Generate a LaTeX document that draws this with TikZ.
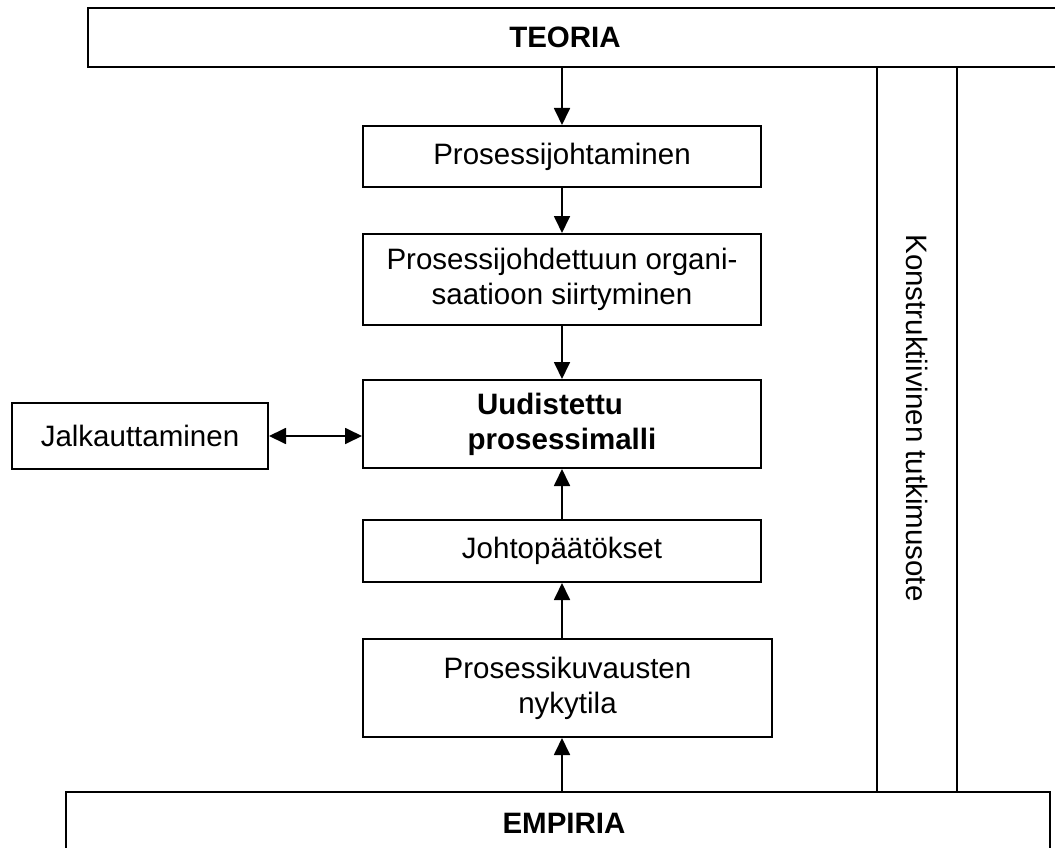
\documentclass[tikz,border=0pt]{standalone}
\usepackage{fontspec}
\setmainfont{Liberation Sans}
\usepackage{tikz}
\usetikzlibrary{arrows.meta,positioning}

\begin{document}
\begin{tikzpicture}[
  x=1pt, y=-1pt,
  font=\fontsize{29.5}{35}\selectfont,
  >={Triangle[length=17pt,width=16pt]},
  box/.style={draw, line width=2pt, align=center, inner sep=0pt,
              minimum width=398pt},
  frame/.style={draw, line width=2pt, inner sep=0pt},
  head/.style={font=\fontsize{29.5}{35}\selectfont\bfseries},
  arr/.style={->, line width=1.8pt}]
\useasboundingbox (0,0) rectangle (1055,848);
\clip (0,0) rectangle (1055,848);
% theory and empirics frames
\node[frame, minimum width=982pt, minimum height=59pt,
      label={[head, xshift=-14pt]center:TEORIA}] (teoria) at (579,37.5) {};
\node[frame, minimum width=984pt, minimum height=70pt,
      label={[head, xshift=6pt, yshift=4pt]center:EMPIRIA}] (empiria) at (558,827) {};
\node[frame, minimum width=80pt, minimum height=725pt] (kons) at (917,429.5) {};
\node[rotate=-90] (konsTxt) at (917,418) {Konstruktiivinen tutkimusote};
% main chain
\node[box, minimum height=61pt] (pj) at (562,156.5) {Prosessijohtaminen};
\node[box, minimum height=91pt] (siirt) at (562,279.5)
  {Prosessijohdettuun organi-\\saatioon siirtyminen};
\node[box, head, minimum height=88pt] (malli) at (562,424)
  {Uudistettu\hspace*{24pt}\\prosessimalli};
\node[box, minimum width=256pt, minimum height=66pt] (jalk) at (140,436) {Jalkauttaminen};
\node[box, minimum height=62pt] (joht) at (562,551) {Johtopäätökset};
\node[box, minimum width=409pt, minimum height=98pt] (nyky) at (567.5,688)
  {Prosessikuvausten\\nykytila};
\draw[arr] (pj.north |- teoria.south) -- (pj.north);
\draw[arr] (pj) -- (siirt);
\draw[arr] (siirt) -- (malli);
\draw[<->, line width=1.8pt] (jalk.east) -- (jalk.east -| malli.west);
\draw[arr] (joht) -- (malli);
\draw[arr] (nyky.north -| joht.south) -- (joht.south);
\draw[arr] (empiria.north -| joht.south) -- (nyky.south -| joht.south);
\end{tikzpicture}
\end{document}
